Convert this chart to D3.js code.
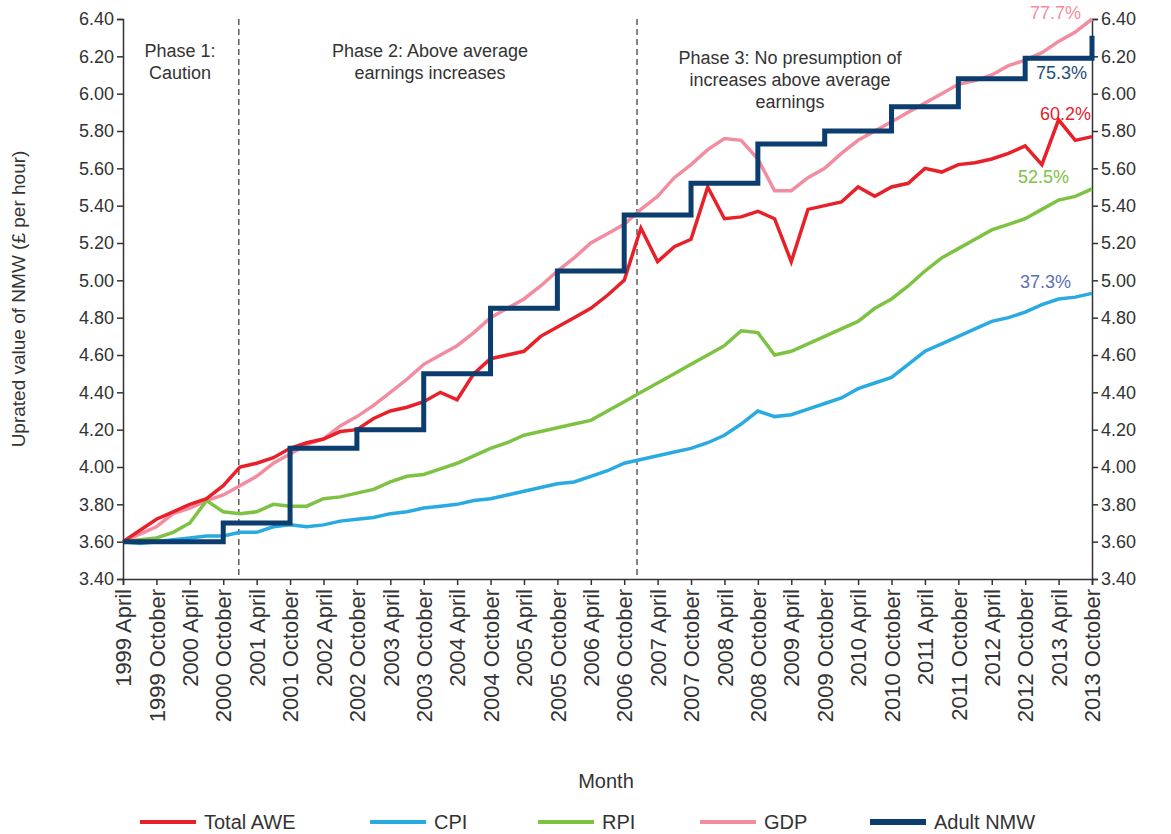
<!DOCTYPE html>
<html><head><meta charset="utf-8">
<script src="https://cdn.jsdelivr.net/npm/d3@7"></script>
<style>
body{margin:0;background:#fff;font-family:"Liberation Sans",Arial,sans-serif;}
text{fill:#333;}
</style></head><body>
<svg id="chart" width="1171" height="834"></svg>
<script>
// quarterly series, Apr 1999 .. Oct 2013
const awe = [3.60,3.66,3.72,3.76,3.80,3.83,3.90,4.00,4.02,4.05,
  4.10,4.13,4.15,4.19,4.20,4.26,4.30,4.32,4.35,4.40,
  4.36,4.50,4.58,4.60,4.62,4.70,4.75,4.80,4.85,4.92,
  5.00,5.28,5.10,5.18,5.22,5.50,5.33,5.34,5.37,5.33,
  5.10,5.38,5.40,5.42,5.50,5.45,5.50,5.52,5.60,5.58,
  5.62,5.63,5.65,5.68,5.72,5.62,5.86,5.75,5.77];
const cpi = [3.60,3.59,3.60,3.61,3.62,3.63,3.63,3.65,3.65,3.68,
  3.69,3.68,3.69,3.71,3.72,3.73,3.75,3.76,3.78,3.79,
  3.80,3.82,3.83,3.85,3.87,3.89,3.91,3.92,3.95,3.98,
  4.02,4.04,4.06,4.08,4.10,4.13,4.17,4.23,4.30,4.27,
  4.28,4.31,4.34,4.37,4.42,4.45,4.48,4.55,4.62,4.66,
  4.70,4.74,4.78,4.80,4.83,4.87,4.90,4.91,4.93];
const rpi = [3.60,3.61,3.62,3.65,3.70,3.82,3.76,3.75,3.76,3.80,
  3.79,3.79,3.83,3.84,3.86,3.88,3.92,3.95,3.96,3.99,
  4.02,4.06,4.10,4.13,4.17,4.19,4.21,4.23,4.25,4.30,
  4.35,4.40,4.45,4.50,4.55,4.60,4.65,4.73,4.72,4.60,
  4.62,4.66,4.70,4.74,4.78,4.85,4.90,4.97,5.05,5.12,
  5.17,5.22,5.27,5.30,5.33,5.38,5.43,5.45,5.49];
const gdp = [3.60,3.64,3.68,3.75,3.78,3.82,3.85,3.90,3.95,4.02,
  4.07,4.12,4.15,4.22,4.27,4.33,4.40,4.47,4.55,4.60,
  4.65,4.72,4.80,4.85,4.90,4.97,5.05,5.12,5.20,5.25,
  5.30,5.38,5.45,5.55,5.62,5.70,5.76,5.75,5.65,5.48,
  5.48,5.55,5.60,5.68,5.75,5.80,5.85,5.90,5.95,6.00,
  6.05,6.07,6.10,6.15,6.18,6.22,6.28,6.33,6.40];
// NMW: month offset from Apr 1999 and rate from then
const nmwMonths = [0,18,30,42,54,66,78,90,102,114,126,138,150,162,174];
const nmwValues = [3.60,3.70,4.10,4.20,4.50,4.85,5.05,5.35,5.52,5.73,5.80,5.93,6.08,6.19,6.31];
const yTicks = [3.40,3.60,3.80,4.00,4.20,4.40,4.60,4.80,5.00,5.20,5.40,5.60,5.80,6.00,6.20,6.40];
const monthNames = ['April','October'];
const endLabels = [
  {t:'77.7%', c:'#f28ca0', v:6.40, dx:-62},
  {t:'75.3%', c:'#1f4e79', v:6.08, dx:-56},
  {t:'60.2%', c:'#e8202a', v:5.86, dx:-52},
  {t:'52.5%', c:'#7dc242', v:5.52, dx:-74},
  {t:'37.3%', c:'#5b6fb5', v:4.96, dx:-72}
];

const svg = d3.select('#chart');
const m = {l:123, r:1092, t:19, b:579};
const x = d3.scaleLinear().domain([0,174]).range([m.l, m.r]);
const y = d3.scaleLinear().domain([3.40,6.40]).range([m.b, m.t]);

// axes
const left = svg.append('g').attr('transform', `translate(${m.l},0)`)
  .call(d3.axisLeft(y).tickValues(yTicks).tickFormat(d3.format('.2f')).tickSize(6));
const right = svg.append('g').attr('transform', `translate(${m.r},0)`)
  .call(d3.axisRight(y).tickValues(yTicks).tickFormat(d3.format('.2f')).tickSize(6));
const xTicks = d3.range(0, 175, 6);
const bottom = svg.append('g').attr('transform', `translate(0,${m.b})`)
  .call(d3.axisBottom(x).tickValues(xTicks).tickSize(6)
    .tickFormat(i => `${1999 + Math.floor((i + 3) / 12)} ${monthNames[(i / 6) % 2]}`));
[left, right, bottom].forEach(a => {
  a.selectAll('path,line').attr('stroke', '#333').attr('stroke-width', 1.5);
  a.selectAll('text').attr('font-size', 18).attr('fill', '#333');
});
bottom.selectAll('text').attr('font-size', 22).attr('transform', 'rotate(-90)')
  .attr('text-anchor', 'end').attr('x', -10).attr('y', 0).attr('dy', '0.35em');

svg.append('text').attr('transform', `translate(25,${(m.t+m.b)/2}) rotate(-90)`)
  .attr('text-anchor', 'middle').attr('font-size', 19).text('Uprated value of NMW (£ per hour)');
svg.append('text').attr('x', 606).attr('y', 788).attr('text-anchor', 'middle')
  .attr('font-size', 20).text('Month');

// phase separators
[20.8, 92.3].forEach(mo => {
  svg.append('line').attr('x1', x(mo)).attr('x2', x(mo)).attr('y1', m.t).attr('y2', m.b)
    .attr('stroke', '#333').attr('stroke-dasharray', '6,4').attr('stroke-width', 1.2);
});
const phases = [
  {x:180, y:57, lines:['Phase 1:','Caution']},
  {x:430, y:57, lines:['Phase 2: Above average','earnings increases']},
  {x:790, y:64, lines:['Phase 3: No presumption of','increases above average','earnings']}
];
phases.forEach(p => {
  const t = svg.append('text').attr('text-anchor', 'middle').attr('font-size', 18);
  p.lines.forEach((l, i) => t.append('tspan').attr('x', p.x).attr('y', p.y + i * 22).text(l));
});

// lines
const line = d3.line().x((d, i) => x(i * 3)).y(d => y(d));
const series = [
  {d:gdp, c:'#f28ca0'},
  {d:rpi, c:'#7dc242'},
  {d:cpi, c:'#29abe2'},
  {d:awe, c:'#e8202a'}
];
series.forEach(s => svg.append('path').datum(s.d).attr('d', line)
  .attr('fill', 'none').attr('stroke', s.c).attr('stroke-width', 3.5));

const nmw = nmwMonths.map((mo, i) => [mo, nmwValues[i]]);
svg.append('path').datum(nmw)
  .attr('d', d3.line().x(d => x(d[0])).y(d => y(d[1])).curve(d3.curveStepAfter))
  .attr('fill', 'none').attr('stroke', '#0b3d6e').attr('stroke-width', 5);

endLabels.forEach(l => svg.append('text').attr('x', m.r + l.dx).attr('y', y(l.v))
  .attr('font-size', 18).style('fill', l.c).text(l.t));

// legend
const legend = [
  {t:'Total AWE', c:'#e8202a', x:140, w:4},
  {t:'CPI', c:'#29abe2', x:370, w:4},
  {t:'RPI', c:'#7dc242', x:538, w:4},
  {t:'GDP', c:'#f28ca0', x:700, w:4},
  {t:'Adult NMW', c:'#0b3d6e', x:870, w:6}
];
legend.forEach(l => {
  svg.append('line').attr('x1', l.x).attr('x2', l.x + 56).attr('y1', 822).attr('y2', 822)
    .attr('stroke', l.c).attr('stroke-width', l.w);
  svg.append('text').attr('x', l.x + 64).attr('y', 829).attr('font-size', 20).text(l.t);
});
</script>
</body></html>
